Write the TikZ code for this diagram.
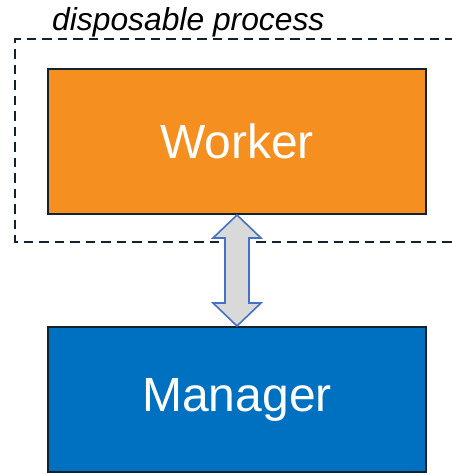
\documentclass[tikz,border=0pt]{standalone}
\usepackage{fontspec}
\setmainfont{Liberation Sans}
\usetikzlibrary{calc}
\definecolor{workerfill}{HTML}{F58F20}
\definecolor{managerfill}{HTML}{0070C0}
\definecolor{edgedark}{HTML}{12222F}
\definecolor{arrowfill}{HTML}{D9D9D9}
\definecolor{arrowline}{HTML}{4472C4}
\tikzset{
  unitbox/.style={draw=edgedark, line width=2pt, minimum width=378pt, minimum height=145pt,
    text=white, font=\fontsize{48}{56}\selectfont, inner sep=0pt},
  groupframe/.style={draw=edgedark, line width=2.2pt, dash pattern=on 9.5pt off 6pt},
  linkarrow/.style={fill=arrowfill, draw=arrowline, line width=1.6pt, line join=miter}
}
\begin{document}
\begin{tikzpicture}[x=1pt, y=-1pt]
  \useasboundingbox (0,0) rectangle (452,474);
  \clip (0,0) rectangle (452,474);
  % process boundary (runs off the right edge)
  \draw[groupframe] (470,39) -- (15,39) -- (15,242) -- (470,242);
  \node[anchor=base west, font=\itshape\fontsize{31.8}{36}\selectfont, inner sep=0pt] (label) at (52,30) {disposable process};
  % the two components
  \node[unitbox, fill=workerfill] (w) at (237,141.5) {Worker};
  \node[unitbox, fill=managerfill] (m) at (237,399.5) {Manager};
  % bidirectional link
  \draw[linkarrow] (w.south) -- ($(w.south)+(24,23)$) -- ($(w.south)+(12,23)$)
    -- ($(m.north)+(12,-23)$) -- ($(m.north)+(24,-23)$) -- (m.north)
    -- ($(m.north)+(-24,-23)$) -- ($(m.north)+(-12,-23)$)
    -- ($(w.south)+(-12,23)$) -- ($(w.south)+(-24,23)$) -- cycle;
\end{tikzpicture}
\end{document}
